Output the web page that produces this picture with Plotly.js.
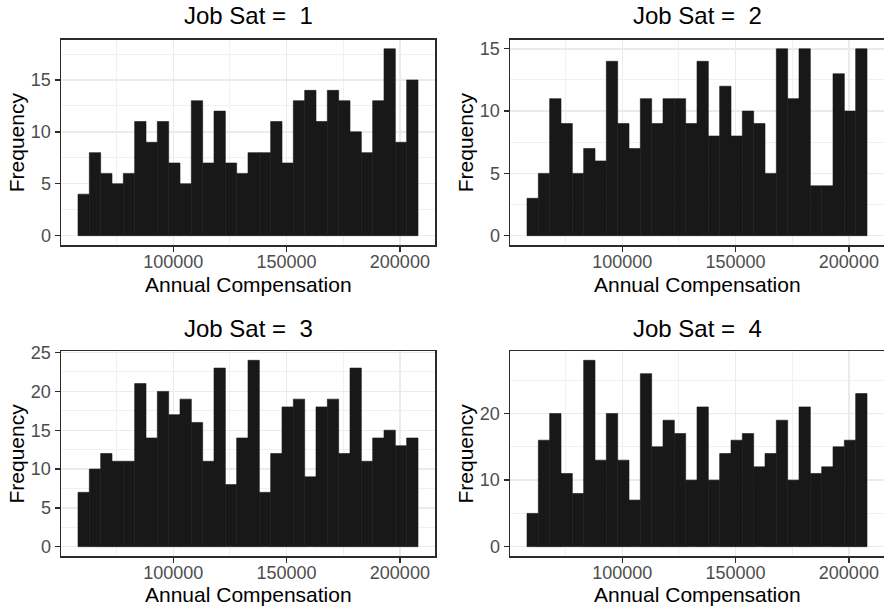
<!DOCTYPE html>
<html>
<head>
<meta charset="utf-8">
<script src="https://cdn.plot.ly/plotly-3.0.1.min.js"></script>
<style>
  html, body { margin: 0; padding: 0; background: #ffffff; overflow: hidden; }
  #chart { width: 884px; height: 608px; }
</style>
</head>
<body>
<div id="chart"></div>
<script>
// ---- data (bin centres of annual compensation, counts per job-satisfaction group) ----
const binCenters = [60500, 65500, 70500, 75500, 80500, 85500, 90500, 95500, 100500, 105500,
                    110500, 115500, 120500, 125500, 130500, 135500, 140500, 145500, 150500, 155500,
                    160500, 165500, 170500, 175500, 180500, 185500, 190500, 195500, 200500, 205500];
const binWidth = 5000;

const countsSat1 = [4, 8, 6, 5, 6, 11, 9, 11, 7, 5, 13, 7, 12, 7, 6, 8, 8, 11, 7, 13, 14, 11, 14, 13, 10, 8, 13, 18, 9, 15];
const countsSat2 = [3, 5, 11, 9, 5, 7, 6, 14, 9, 7, 11, 9, 11, 11, 9, 14, 8, 12, 8, 10, 9, 5, 15, 11, 15, 4, 4, 13, 10, 15];
const countsSat3 = [7, 10, 12, 11, 11, 21, 14, 20, 17, 19, 16, 11, 23, 8, 14, 24, 7, 12, 18, 19, 9, 18, 19, 12, 23, 11, 14, 15, 13, 14];
const countsSat4 = [5, 16, 20, 11, 8, 28, 13, 20, 13, 7, 26, 15, 19, 17, 10, 21, 10, 14, 16, 17, 12, 14, 19, 10, 21, 11, 12, 15, 16, 23];

const panelTitles = ["Job Sat = \u00a01", "Job Sat = \u00a02", "Job Sat = \u00a03", "Job Sat = \u00a04"];
const xTitle = "Annual Compensation";
const yTitle = "Frequency";
const xTickVals = [100000, 150000, 200000];
const xTickText = ["100000", "150000", "200000"];

// ---- styling ----
const FONT = "Liberation Sans, Arial, Helvetica, sans-serif";
const BAR = "#181818";
const GRID = "#EBEBEB";
const BORDER = "#2b2b2b";

const allCounts = [countsSat1, countsSat2, countsSat3, countsSat4];
const traces = allCounts.map((c, i) => ({
  type: "bar",
  x: binCenters,
  y: c,
  width: binWidth,
  marker: { color: BAR, line: { color: BAR, width: 0.6 } },
  xaxis: i === 0 ? "x" : "x" + (i + 1),
  yaxis: i === 0 ? "y" : "y" + (i + 1),
  hoverinfo: "x+y",
  showlegend: false
}));

const xDomL = [61 / 884, 435 / 884];
const xDomR = [510 / 884, 1];
const yDomT = [1 - 245 / 608, 1 - 39.5 / 608];
const yDomB = [1 - 556 / 608, 1 - 351 / 608];

function xAxis(domain, anchor, mirror) {
  return {
    domain: domain, anchor: anchor,
    range: [50500, 215500],
    tickvals: xTickVals, ticktext: xTickText,
    showgrid: true, gridcolor: GRID, gridwidth: 1.4,
    minor: { tickvals: [75000, 125000, 175000], showgrid: true, gridcolor: GRID, gridwidth: 0.7 },
    zeroline: false,
    showline: true, linecolor: BORDER, linewidth: 1.5, mirror: mirror,
    ticks: "outside", ticklen: 5, tickwidth: 1.3, tickcolor: BORDER,
    ticklabelstandoff: -5,
    tickfont: { family: FONT, size: 18, color: "#4D4D4D" },
    fixedrange: true
  };
}
function yAxis(domain, anchor, range, dtick, mirror) {
  return {
    domain: domain, anchor: anchor,
    range: range,
    tick0: 0, dtick: dtick,
    showgrid: true, gridcolor: GRID, gridwidth: 1.4,
    minor: { tick0: 0, dtick: dtick / 2, showgrid: true, gridcolor: GRID, gridwidth: 0.7 },
    zeroline: false,
    showline: true, linecolor: BORDER, linewidth: 1.5, mirror: mirror,
    ticks: "outside", ticklen: 5, tickwidth: 1.3, tickcolor: BORDER,
    tickfont: { family: FONT, size: 18, color: "#4D4D4D" },
    fixedrange: true
  };
}

function yRange(counts) {
  const m = Math.max(...counts);
  return [-0.05 * m, 1.05 * m];
}

const titleY = [1 - 15.5 / 608, 1 - 15.5 / 608, 1 - 328 / 608, 1 - 328 / 608];
const centerX = [(xDomL[0] + xDomL[1]) / 2, (xDomR[0] + xDomR[1]) / 2];
const annotations = [];
panelTitles.forEach((t, i) => {
  annotations.push({
    text: t, xref: "paper", yref: "paper",
    x: centerX[i % 2], y: titleY[i], xanchor: "center", yanchor: "middle",
    showarrow: false, font: { family: FONT, size: 24, color: "#000000" }
  });
});
const xTitleY = [1 - 284 / 608, 1 - 594.5 / 608];
[0, 1, 2, 3].forEach(i => {
  annotations.push({
    text: xTitle, xref: "paper", yref: "paper",
    x: centerX[i % 2], y: xTitleY[Math.floor(i / 2)], xanchor: "center", yanchor: "middle",
    showarrow: false, font: { family: FONT, size: 21, color: "#000000" }
  });
});
const yTitleX = [16 / 884, 465 / 884];
const yMid = [(yDomT[0] + yDomT[1]) / 2, (yDomB[0] + yDomB[1]) / 2];
[0, 1, 2, 3].forEach(i => {
  annotations.push({
    text: yTitle, xref: "paper", yref: "paper", textangle: -90,
    x: yTitleX[i % 2], y: yMid[Math.floor(i / 2)], xanchor: "center", yanchor: "middle",
    showarrow: false, font: { family: FONT, size: 21, color: "#000000" }
  });
});

const layout = {
  width: 884, height: 608,
  margin: { l: 0, r: 0, t: 0, b: 0, pad: 0 },
  paper_bgcolor: "#ffffff", plot_bgcolor: "#ffffff",
  bargap: 0,
  showlegend: false,
  font: { family: FONT },
  xaxis: xAxis(xDomL, "y", true),
  yaxis: yAxis(yDomT, "x", yRange(countsSat1), 5, true),
  xaxis2: xAxis(xDomR, "y2", true),
  yaxis2: yAxis(yDomT, "x2", yRange(countsSat2), 5, false),
  xaxis3: xAxis(xDomL, "y3", true),
  yaxis3: yAxis(yDomB, "x3", yRange(countsSat3), 5, true),
  xaxis4: xAxis(xDomR, "y4", true),
  yaxis4: yAxis(yDomB, "x4", yRange(countsSat4), 10, false),
  annotations: annotations
};

Plotly.newPlot("chart", traces, layout, { displayModeBar: false, staticPlot: true });
</script>
</body>
</html>
